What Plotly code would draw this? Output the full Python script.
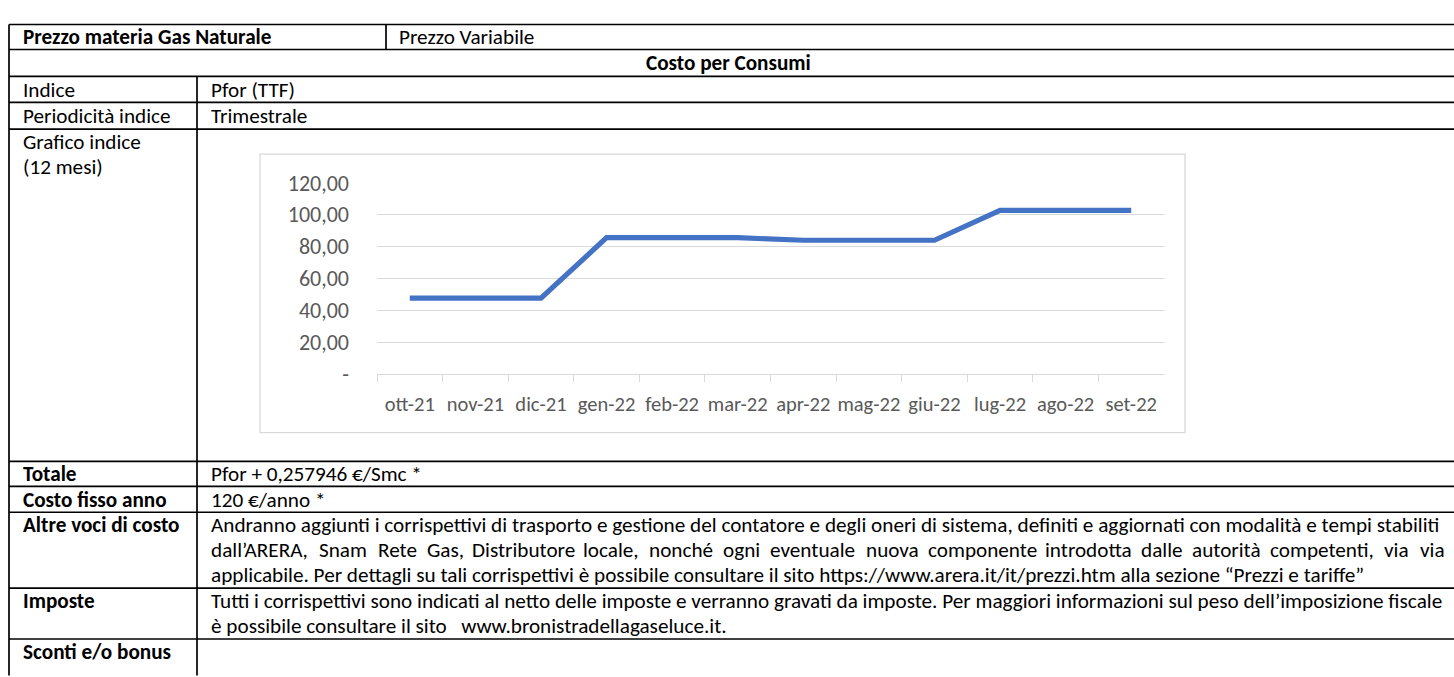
import plotly.graph_objects as go

W, H = 1454, 677

# ---- data ----
months = ["ott-21", "nov-21", "dic-21", "gen-22", "feb-22", "mar-22",
          "apr-22", "mag-22", "giu-22", "lug-22", "ago-22", "set-22"]
pfor = [47.6, 47.6, 47.6, 85.6, 85.6, 85.6, 84.0, 84.0, 84.0, 102.8, 102.8, 102.8]
y_tick_vals = [0, 20, 40, 60, 80, 100, 120]
y_tick_text = ["-", "20,00", "40,00", "60,00", "80,00", "100,00", "120,00"]

header_left = "Prezzo materia Gas Naturale"
header_right = "Prezzo Variabile"
section_title = "Costo per Consumi"
row_labels_top = ["Indice", "Periodicità indice", "Grafico indice", "(12 mesi)"]
row_values_top = ["Pfor (TTF)", "Trimestrale"]
row_labels_bottom = ["Totale", "Costo fisso anno", "Altre voci di costo", "Imposte", "Sconti e/o bonus"]
altre_voci_lines = [
    "Andranno aggiunti i corrispettivi di trasporto e gestione del contatore e degli oneri di sistema, definiti e aggiornati con modalità e tempi stabiliti",
    "dall’ARERA, Snam Rete Gas, Distributore locale, nonché ogni eventuale nuova componente introdotta dalle autorità competenti, via via",
    "applicabile. Per dettagli su tali corrispettivi è possibile consultare il sito https://www.arera.it/it/prezzi.htm alla sezione “Prezzi e tariffe”",
]
imposte_lines = [
    "Tutti i corrispettivi sono indicati al netto delle imposte e verranno gravati da imposte. Per maggiori informazioni sul peso dell’imposizione fiscale",
    "è possibile consultare il sito   www.bronistradellagaseluce.it.",
]
totale_text = "Pfor + 0,257946 €/Smc *"
costo_fisso_text = "120 €/anno *"

FONT = "Calibri, Carlito, Lato, sans-serif"
TF = 21.2


def px(x):
    return x / W


def py(y):
    return 1 - y / H


fig = go.Figure()
fig.add_trace(go.Scatter(
    x=months, y=pfor, mode="lines",
    line=dict(color="#4472C4", width=5.2),
    hoverinfo="x+y", showlegend=False,
))

shapes = []
shapes.append(dict(type="rect", xref="paper", yref="paper",
                   x0=px(260), x1=px(1185), y0=py(437), y1=py(147),
                   line=dict(color="#d9d9d9", width=1.3), layer="below"))

TL = dict(color="black", width=1.7)
for yy in [12, 38, 66, 93, 121, 467, 493, 520, 599, 652]:
    shapes.append(dict(type="line", xref="paper", yref="paper",
                       x0=px(9), x1=px(1460), y0=py(yy), y1=py(yy), line=TL))
shapes.append(dict(type="line", xref="paper", yref="paper",
                   x0=px(9), x1=px(9), y0=py(12), y1=py(690), line=TL))
shapes.append(dict(type="line", xref="paper", yref="paper",
                   x0=px(386), x1=px(386), y0=py(12), y1=py(38), line=TL))
shapes.append(dict(type="line", xref="paper", yref="paper",
                   x0=px(197), x1=px(197), y0=py(66), y1=py(690), line=TL))

ann = []


def txt(x, y, s, bold=False, anchor="left", size=TF):
    if bold:
        s = "<b>" + s + "</b>"
    ann.append(dict(xref="paper", yref="paper", x=px(x), y=py(y), text=s,
                    showarrow=False, xanchor=anchor, yanchor="middle",
                    align="left", borderpad=0,
                    font=dict(family=FONT, size=size, color="black")))


# approximate relative glyph widths, only used to spread words of justified lines
def est(s):
    w = 0.0
    for ch in s:
        if ch in "ijl.,’'!:;|()":
            w += 0.24
        elif ch in "tf":
            w += 0.35
        elif ch in "mwMW":
            w += 0.84
        elif ch.isupper():
            w += 0.60
        elif ch == "r":
            w += 0.37
        elif ch == "s":
            w += 0.42
        else:
            w += 0.54
    return w


def justified(x0, x1, y, line):
    # word centres placed proportionally to their estimated natural position,
    # first word left-aligned, last word right-aligned
    words = line.split(" ")
    widths = [est(wd) for wd in words]
    gap = (sum(widths) * 0.0 + 1.0)  # relative gap weight
    n = len(words)
    # natural gap ~0.26 em; justification adds a uniform amount per gap
    sp = 0.26 + 0.30
    total = sum(widths) + sp * (n - 1)
    pos = 0.0
    for i, (wd, w) in enumerate(zip(words, widths)):
        centre = (pos + w / 2.0) / total
        if i == 0:
            txt(x0, y, wd)
        elif i == n - 1:
            txt(x1, y, wd, anchor="right")
        else:
            txt(x0 + (x1 - x0) * centre, y, wd, anchor="center")
        pos += w + sp


txt(22, 25, header_left, bold=True)
txt(398, 25, header_right)
txt(728, 52, section_title, bold=True, anchor="center")
txt(22, 80, row_labels_top[0])
txt(210, 80, row_values_top[0])
txt(22, 107, row_labels_top[1])
txt(210, 107, row_values_top[1])
txt(22, 134, row_labels_top[2])
txt(22, 160, row_labels_top[3])

txt(22, 480, row_labels_bottom[0], bold=True)
txt(210, 480, totale_text)
txt(22, 507, row_labels_bottom[1], bold=True)
txt(210, 507, costo_fisso_text)
txt(22, 533, row_labels_bottom[2], bold=True)
txt(210, 533, altre_voci_lines[0])
justified(210, 1446, 559, altre_voci_lines[1])
txt(210, 585, altre_voci_lines[2])
txt(22, 612, row_labels_bottom[3], bold=True)
txt(210, 612, imposte_lines[0])
txt(210, 638, imposte_lines[1])
txt(22, 666, row_labels_bottom[4], bold=True)

fig.update_layout(
    width=W, height=H,
    margin=dict(l=0, r=0, t=0, b=0),
    paper_bgcolor="white", plot_bgcolor="white",
    shapes=shapes, annotations=ann,
    xaxis=dict(domain=[px(377), px(1164)], type="category",
               range=[-0.5, 11.5], showgrid=False,
               showline=True, linecolor="#d9d9d9", linewidth=1.3,
               ticks="outside", tickson="boundaries", ticklen=7,
               tickcolor="#d9d9d9", tickwidth=1.3, tickangle=0,
               tickfont=dict(family=FONT, size=20.5, color="#595959"),
               ticklabelstandoff=11, fixedrange=True),
    yaxis=dict(domain=[py(376), py(177)], range=[0, 120],
               tickvals=y_tick_vals, ticktext=y_tick_text,
               showgrid=True, gridcolor="#d9d9d9", gridwidth=1.3,
               zeroline=False, showline=False, ticks="",
               tickfont=dict(family=FONT, size=22, color="#595959"),
               ticklabelstandoff=27, fixedrange=True),
)

fig.write_html("out.html", config={"displayModeBar": False},
               post_script="document.body.style.margin='0';document.body.style.overflow='hidden';")
